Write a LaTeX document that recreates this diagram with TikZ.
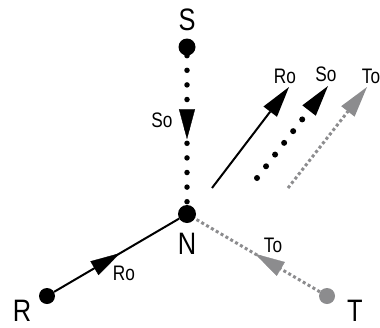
\documentclass[tikz,border=0pt]{standalone}
\usepackage{fontspec}
\setmainfont[FakeStretch=0.82]{Liberation Sans}
\usetikzlibrary{arrows.meta,decorations.markings}
\definecolor{dotgray}{RGB}{140,140,142}
\tikzset{
  bigdot/.style={circle,fill=black,inner sep=0pt,minimum size=17pt},
  graydot/.style={circle,fill=dotgray,inner sep=0pt,minimum size=16pt},
  biglbl/.style={inner sep=0pt,font=\fontsize{31}{31}\selectfont},
  smalllbl/.style={inner sep=0pt,font=\fontsize{21}{21}\selectfont},
  solidline/.style={line width=2pt,black},
  bigdots/.style={line width=5.5pt,black,line cap=round,dash pattern=on 0pt off 14.6pt},
  graydots/.style={line width=3pt,dotgray,dash pattern=on 3pt off 2.6pt},
  tipshape/.style={Triangle[length=30pt,width=16pt,line width=0pt]},
  midarrow/.style 2 args={postaction={decorate},decoration={markings,
     mark=at position #1 with {\arrow[solid,line width=0.3pt,#2]{Triangle[length=30pt,width=16pt]}}}},
}
\begin{document}
\begin{tikzpicture}[x=1pt,y=-1pt]
\useasboundingbox (0,0) rectangle (380,327);
% nodes
\node[bigdot] (S) at (187,47) {};
\node[bigdot,minimum size=18pt] (N) at (187,214) {};
\node[bigdot,minimum size=16pt] (R) at (47,296) {};
\node[graydot] (T) at (327,296) {};
% labels
\node[biglbl] (Sl) at (187,20) {S};
\node[biglbl] (Nl) at (187,244) {N};
\node[biglbl] (Rl) at (22,311) {R};
\node[biglbl] (Tl) at (355,311) {T};
\node[smalllbl] (So1) at (162,120) {So};
\node[smalllbl] (Ro1) at (124,273) {Ro};
\node[smalllbl] (To1) at (273,245) {To};
\node[smalllbl] (Ro2) at (285,76) {Ro};
\node[smalllbl] (So2) at (326,74) {So};
\node[smalllbl] (To2) at (371,76) {To};
% connectors
\draw[bigdots,midarrow={0.56}{black}] (S) -- (N);
\draw[solidline,midarrow={0.53}{black}] (R) -- (N);
\draw[graydots,midarrow={0.52}{dotgray}] (T) -- (N);
% legend arrows
\coordinate (roA) at (212,188); \coordinate (roB) at (289,87);
\coordinate (soA) at (257,178); \coordinate (soB) at (328,86);
\coordinate (toA) at (288,188); \coordinate (toB) at (367,87);
\draw[solidline,-{Triangle[length=31pt,width=17pt,line width=0pt]}] (roA) -- (roB);
\draw[bigdots,line width=6pt,dash pattern=on 0pt off 14.8pt,-{Triangle[length=31pt,width=17pt,line width=0pt]}] (soA) -- (soB);
\draw[graydots,-{Triangle[length=31pt,width=17pt,line width=0pt]}] (toA) -- (toB);
\end{tikzpicture}
\end{document}
